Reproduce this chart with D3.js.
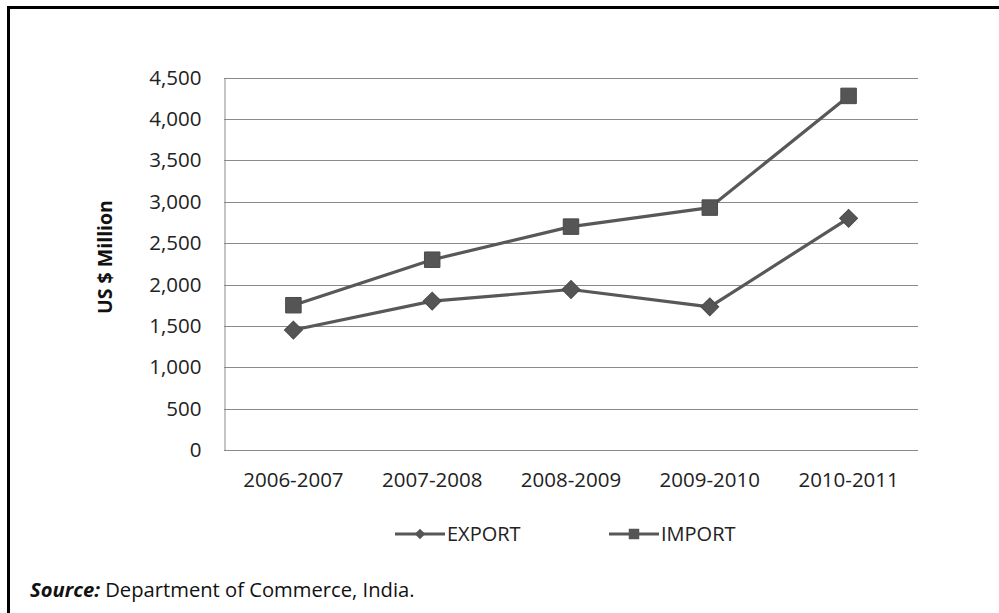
<!DOCTYPE html>
<html>
<head>
<meta charset="utf-8">
<script src="https://cdn.jsdelivr.net/npm/d3@7"></script>
<style>
  html, body { margin: 0; padding: 0; background: #fff; }
  svg { display: block; }
</style>
</head>
<body>
<svg id="chart" width="999" height="613"></svg>
<script>
// Trade of India, US $ million
const years = ["2006-2007", "2007-2008", "2008-2009", "2009-2010", "2010-2011"];
const exportValues = [1450, 1800, 1940, 1730, 2800];
const importValues = [1750, 2300, 2700, 2930, 4280];
const yTicks = [0, 500, 1000, 1500, 2000, 2500, 3000, 3500, 4000, 4500];
const seriesNames = ["EXPORT", "IMPORT"];

const svg = d3.select("#chart");
const FONT = "'Open Sans', 'Noto Sans', sans-serif";
const LINE = "#585858";
const GRID = "#8a8a8a";

const plot = { left: 224, right: 918, top: 77.7, bottom: 450 };

const x = d3.scaleBand().domain(years).range([plot.left, plot.right]).padding(0);
const y = d3.scaleLinear().domain([0, 4500]).range([plot.bottom, plot.top]);

// frame
svg.append("path")
  .attr("d", `M8.5,${613} V7.5 H999`)
  .attr("fill", "none")
  .attr("stroke", "#000")
  .attr("stroke-width", 3);

// horizontal gridlines
svg.append("g")
  .selectAll("line")
  .data(yTicks)
  .join("line")
  .attr("x1", plot.left)
  .attr("x2", plot.right)
  .attr("y1", d => Math.round(y(d)) + 0.5)
  .attr("y2", d => Math.round(y(d)) + 0.5)
  .attr("stroke", GRID)
  .attr("stroke-width", 1);

// y axis
const yAxis = d3.axisLeft(y)
  .tickValues(yTicks)
  .tickSize(0)
  .tickPadding(23)
  .tickFormat(d3.format(","));
const gy = svg.append("g")
  .attr("transform", `translate(${plot.left + 0.5},0)`)
  .call(yAxis);
gy.select(".domain").attr("stroke", GRID);
gy.selectAll("text")
  .attr("font-family", FONT)
  .attr("font-size", 20.5)
  .attr("fill", "#222");

// x axis
const xAxis = d3.axisBottom(x).tickSize(0).tickPadding(22);
const gx = svg.append("g")
  .attr("transform", `translate(0,${Math.round(plot.bottom) + 0.5})`)
  .call(xAxis);
gx.select(".domain").remove();
gx.selectAll("text")
  .attr("font-family", FONT)
  .attr("font-size", 20.5)
  .attr("fill", "#222");

// axis title
svg.append("text")
  .attr("transform", `translate(112,257) rotate(-90)`)
  .attr("text-anchor", "middle")
  .attr("font-family", FONT)
  .attr("font-weight", "bold")
  .attr("font-size", 19.5)
  .attr("fill", "#111")
  .text("US $ Million");

const line = d3.line()
  .x((d, i) => x(years[i]) + x.bandwidth() / 2)
  .y(d => y(d));

// diamonds are squares turned by 45 degrees
const series = [
  { name: seriesNames[0], values: exportValues, size: 160, rot: 45 },
  { name: seriesNames[1], values: importValues, size: 240, rot: 0 }
];

series.forEach(s => {
  svg.append("path")
    .datum(s.values)
    .attr("d", line)
    .attr("fill", "none")
    .attr("stroke", LINE)
    .attr("stroke-width", 3.2)
    .attr("stroke-linejoin", "round");

  svg.append("g")
    .selectAll("path")
    .data(s.values)
    .join("path")
    .attr("transform", (d, i) => `translate(${x(years[i]) + x.bandwidth() / 2},${y(d)}) rotate(${s.rot})`)
    .attr("d", d3.symbol().type(d3.symbolSquare).size(s.size))
    .attr("fill", "#555")
    .attr("stroke", "#4a4a4a")
    .attr("stroke-width", 1);
});

// legend
const legendItems = [
  { name: seriesNames[0], x0: 395, size: 55, rot: 45 },
  { name: seriesNames[1], x0: 609, size: 110, rot: 0 }
];
const ly = 534;
const lg = svg.append("g");
legendItems.forEach(it => {
  lg.append("line")
    .attr("x1", it.x0).attr("x2", it.x0 + 50)
    .attr("y1", ly).attr("y2", ly)
    .attr("stroke", LINE).attr("stroke-width", 3);
  lg.append("path")
    .attr("transform", `translate(${it.x0 + 25},${ly}) rotate(${it.rot})`)
    .attr("d", d3.symbol().type(d3.symbolSquare).size(it.size))
    .attr("fill", "#555");
  lg.append("text")
    .attr("x", it.x0 + 52)
    .attr("y", ly + 7)
    .attr("font-family", FONT)
    .attr("font-size", 20)
    .attr("fill", "#222")
    .text(it.name);
});

// source note
const src = svg.append("text")
  .attr("x", 30)
  .attr("y", 597)
  .attr("font-family", FONT)
  .attr("font-size", 20.2)
  .attr("fill", "#111");
src.append("tspan")
  .attr("font-weight", "bold")
  .attr("font-style", "italic")
  .text("Source:");
src.append("tspan").text(" Department of Commerce, India.");
</script>
</body>
</html>
